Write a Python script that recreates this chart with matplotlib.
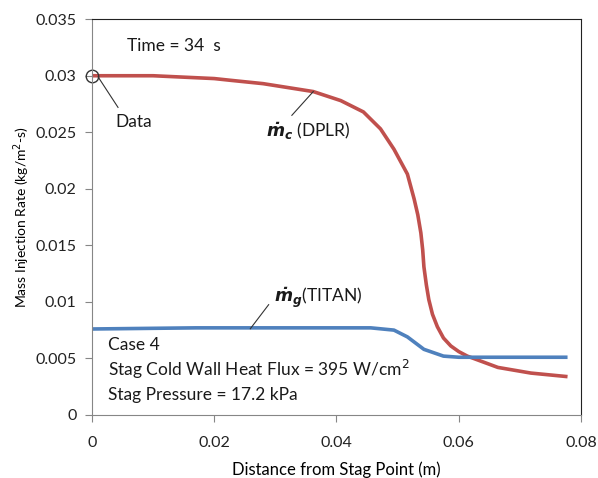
import numpy as np
import matplotlib.pyplot as plt

plt.rcParams['font.family'] = ['Lato', 'DejaVu Sans']
plt.rcParams['mathtext.fontset'] = 'dejavusans'

# DPLR char injection rate (red)
x_dplr = [0.0, 0.01, 0.02, 0.0226, 0.028, 0.0362, 0.0407, 0.0444, 0.0472, 0.0494,
          0.0516, 0.0527, 0.0533, 0.0538, 0.0541, 0.0543, 0.0547, 0.0551, 0.0557,
          0.0565, 0.0575, 0.0587, 0.0600, 0.0614, 0.0664, 0.0718, 0.0775]
y_dplr = [0.0300, 0.0300, 0.02975, 0.0296, 0.0293, 0.0286, 0.0278, 0.0268, 0.0253,
          0.0235, 0.0213, 0.0191, 0.0177, 0.0161, 0.0146, 0.0131, 0.0115, 0.0102,
          0.0089, 0.0078, 0.0068, 0.0061, 0.0056, 0.0052, 0.0042, 0.0037, 0.0034]

# TITAN gas injection rate (blue)
x_titan = [0.0, 0.017, 0.025, 0.035, 0.0456, 0.0494, 0.0516, 0.0543, 0.0575,
           0.06, 0.07, 0.0775]
y_titan = [0.0076, 0.0077, 0.0077, 0.0077, 0.0077, 0.0075, 0.0069, 0.0058, 0.0052,
           0.0051, 0.0051, 0.0051]

data_x = [0.0]
data_y = [0.030]

fig = plt.figure(figsize=(5.98, 4.78), dpi=100)
ax = fig.add_axes([0.1538, 0.132, 0.8178, 0.8278])

ax.plot(x_dplr, y_dplr, color='#C0504D', linewidth=2.6)
ax.plot(x_titan, y_titan, color='#4F81BD', linewidth=2.6)
ax.plot(data_x, data_y, 'o', markerfacecolor='none', markeredgecolor='#333333',
        markersize=9, markeredgewidth=1.0, clip_on=False)

ax.set_xlim(0, 0.08)
ax.set_ylim(0, 0.035)
ax.set_xticks([0, 0.02, 0.04, 0.06, 0.08])
ax.set_xticklabels(['0', '0.02', '0.04', '0.06', '0.08'])
ax.set_yticks([0, 0.005, 0.01, 0.015, 0.02, 0.025, 0.03, 0.035])
ax.set_yticklabels(['0', '0.005', '0.01', '0.015', '0.02', '0.025', '0.03', '0.035'])
ax.tick_params(direction='out', length=5, color='#868686', labelsize=11.5,
               labelcolor='#222222')
ax.tick_params(axis='x', pad=10)
ax.tick_params(axis='y', pad=6)
for s in ['left', 'bottom']:
    ax.spines[s].set_color('#868686')
for s in ['top', 'right']:
    ax.spines[s].set_color('#222222')

ax.set_xlabel('Distance from Stag Point (m)', fontsize=12)
ax.xaxis.set_label_coords(0.5, -0.118)
ax.set_ylabel('Mass Injection Rate (kg/m$^2$-s)', fontsize=10)
ax.yaxis.set_label_coords(-0.122, 0.5)

# annotations
tc = '#1a1a1a'
lc = '#333333'
ax.text(0.0057, 0.03265, 'Time = 34  s', fontsize=12.5, va='center', color=tc)
ax.plot([0.001, 0.00426], [0.0299, 0.0272], color=lc, lw=0.8)
ax.text(0.0039, 0.0259, 'Data', fontsize=12.5, va='center', color=tc)
ax.plot([0.0362, 0.0327], [0.0286, 0.0265], color=lc, lw=0.8)
ax.text(0.0285, 0.0251, r'$\mathbfit{\dot{m}_c}$ (DPLR)', fontsize=12.5, va='center', color=tc)
ax.plot([0.0259, 0.0289], [0.00762, 0.00975], color=lc, lw=0.8)
ax.text(0.0297, 0.0104, r'$\mathbfit{\dot{m}_g}$(TITAN)', fontsize=12.5, va='center', color=tc)
ax.text(0.0027, 0.0062, 'Case 4', fontsize=12.5, va='center', color=tc)
ax.text(0.0027, 0.0040, 'Stag Cold Wall Heat Flux = 395 W/cm$^2$', fontsize=12.5,
        va='center', color=tc)
ax.text(0.0027, 0.0018, 'Stag Pressure = 17.2 kPa', fontsize=12.5, va='center', color=tc)

plt.savefig('out.png', dpi=100)
